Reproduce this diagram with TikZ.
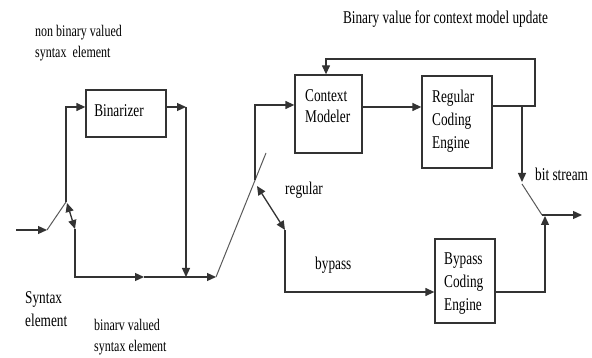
\documentclass[tikz,border=0pt]{standalone}
\usepackage{fontspec}
\setmainfont{Liberation Serif}
\usepackage{graphicx}
\usetikzlibrary{arrows.meta}

% text set in a left-aligned stack, stretched vertically
\newcommand{\tallstack}[1]{\scalebox{1}[1.35]{\begin{tabular}{@{}l@{}}#1\end{tabular}}}

\tikzset{
  headtip/.tip={Triangle[length=9pt,width=8pt]},
  wire/.style={draw=black!80, line width=1.3pt},
  arr/.style={wire, -headtip},
  darr/.style={wire, headtip-headtip},
  blade/.style={draw=black!65, line width=1pt},
  block/.style={draw=black!80, line width=1.3pt, inner sep=0pt},
  lbl/.style={inner sep=0pt, text=black, font=\fontsize{13.3}{17}\selectfont},
  lbltight/.style={lbl, font=\fontsize{13.3}{15.5}\selectfont},
  small/.style={lbl, font=\fontsize{12}{15.5}\selectfont},
}

\begin{document}
\begin{tikzpicture}[x=1pt,y=-1pt]
\useasboundingbox (0,0) rectangle (592,358);

% processing blocks
\node[block, minimum width=80pt, minimum height=47pt] (bin) at (126,113.5) {};
\node[block, minimum width=67pt, minimum height=78pt] (cm)  at (328.5,114) {};
\node[block, minimum width=70pt, minimum height=92pt] (rce) at (457,122) {};
\node[block, minimum width=60pt, minimum height=84pt] (bce) at (465,281) {};

\node[lbl] (bintext) at (119,112) {\tallstack{Binarizer}};
\node[lbltight, anchor=west] (cmtext) at (305,107.5) {\tallstack{Context\\Modeler}};
\node[lbl, anchor=west] (rcetext) at (432,121) {\tallstack{Regular\\Coding\\Engine}};
\node[lbl, anchor=west] (bcetext) at (444,282.5) {\tallstack{Bypass\\Coding\\Engine}};

% free labels
\node[lbl] (title) at (445.5,19) {\tallstack{Binary value for context model update}};
\node[small, anchor=west] (nonbin) at (35,42.5) {\tallstack{non binary valued\\syntax\ \ element}};
\node[lbl, anchor=west] (synel) at (25,310) {\tallstack{Syntax\\element}};
\node[small, anchor=west] (binval) at (94,336.5) {\tallstack{binarv valued\\syntax element}};
\node[lbl, anchor=west] (reg) at (285,190) {\tallstack{regular}};
\node[lbl, anchor=west] (byp) at (315,265) {\tallstack{bypass}};
\node[lbl, anchor=west] (bits) at (535,176) {\tallstack{bit stream}};

% wiring points
\coordinate (in)    at (16,230);
\coordinate (s1)    at (47,230);
\coordinate (s1a)   at (66,202);
\coordinate (bu)    at (66,107);
\coordinate (bo)    at (186,107);
\coordinate (c1a)   at (67,203);
\coordinate (c1b)   at (75,229);
\coordinate (lb)    at (75,277);
\coordinate (mid)   at (144,277);
\coordinate (mg)    at (186,277);
\coordinate (s2)    at (216,277);
\coordinate (s2top) at (266,153);
\coordinate (ru)    at (255,180);
\coordinate (cu)    at (255,105);
\coordinate (c2a)   at (257,186);
\coordinate (c2b)   at (285,230);
\coordinate (bp)    at (285,292);
\coordinate (lvl)   at (362,107);
\coordinate (fb0)   at (535,106);
\coordinate (fbt)   at (535,59);
\coordinate (fbl)   at (326,59);
\coordinate (tap)   at (522,106);
\coordinate (tapd)  at (522,182);
\coordinate (s3a)   at (522,184);
\coordinate (s3)    at (542,215);
\coordinate (bo2)   at (545,292);
\coordinate (bo2t)  at (545,216);
\coordinate (out)   at (582,215);

% input selector
\draw[arr] (in) -- (s1);
\draw[blade] (s1) -- (s1a);
\draw[arr] (s1a) -- (bu) -- (bu -| bin.west);
\draw[arr] (bu -| bin.east) -- (bo);
\draw[arr] (bo) -- (mg);
\draw[darr] (c1a) -- (c1b);
\draw[arr] (c1b) -- (lb) -- (mid);
\draw[arr] (mid) -- (s2);

% regular / bypass selector
\draw[blade] (s2) -- (s2top);
\draw[arr] (ru) -- (cu) -- (cu -| cm.west);
\draw[darr] (c2a) -- (c2b);
\draw[arr] (c2b) -- (bp) -- (bp -| bce.west);

% regular path with context update loop
\draw[arr] (lvl -| cm.east) -- (lvl -| rce.west);
\draw[arr] (fb0 -| rce.east) -- (fb0) -- (fbt) -- (fbl) -- (fbl |- cm.north);
\draw[arr] (tap) -- (tapd);

% output selector
\draw[blade] (s3a) -- (s3);
\draw[arr] (bp -| bce.east) -- (bo2) -- (bo2t);
\draw[arr] (s3) -- (out);
\end{tikzpicture}
\end{document}
